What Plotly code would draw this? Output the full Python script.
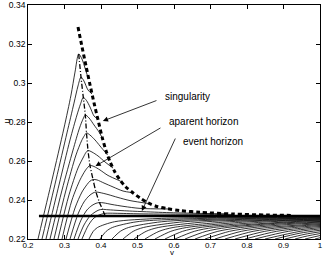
import plotly.graph_objects as go

# ---- data (v, u) ----
# curves that cross the event horizon (peak on the apparent horizon, end on singularity)
peak_v = [
    [0.2274, 0.2658, 0.2986, 0.3178, 0.3288, 0.3389, 0.3479, 0.3562, 0.3630],
    [0.2384, 0.2767, 0.3068, 0.3260, 0.3370, 0.3452, 0.3534, 0.3644, 0.3753],
    [0.2493, 0.2849, 0.3151, 0.3342, 0.3438, 0.3515, 0.3603, 0.3699, 0.3808, 0.3904],
    [0.2603, 0.2932, 0.3233, 0.3411, 0.3507, 0.3570, 0.3671, 0.3808, 0.3945, 0.4027],
    [0.2712, 0.3041, 0.3315, 0.3466, 0.3548, 0.3603, 0.3699, 0.3836, 0.3973, 0.4178],
    [0.2822, 0.3123, 0.3370, 0.3521, 0.3589, 0.3644, 0.3753, 0.3918, 0.4110, 0.4329],
    [0.2932, 0.3205, 0.3425, 0.3562, 0.3644, 0.3699, 0.3808, 0.3973, 0.4192, 0.4534],
    [0.3041, 0.3288, 0.3479, 0.3616, 0.3699, 0.3781, 0.3890, 0.4082, 0.4329, 0.4603, 0.4849],
    [0.3151, 0.3370, 0.3534, 0.3671, 0.3781, 0.3863, 0.3973, 0.4192, 0.4466, 0.4795, 0.5342],
    [0.3260, 0.3452, 0.3616, 0.3753, 0.3863, 0.3959, 0.4082, 0.4301, 0.4630, 0.5068, 0.5890],
    [0.3370, 0.3534, 0.3699, 0.3836, 0.3945, 0.4041, 0.4192, 0.4521, 0.5068, 0.5890, 0.7397],
    [0.3479, 0.3644, 0.3781, 0.3918, 0.4027, 0.4137, 0.4384, 0.5068, 0.6164, 0.7616],
]
peak_u = [
    [0.2200, 0.2503, 0.2769, 0.2938, 0.3056, 0.3149, 0.3123, 0.3077, 0.3036],
    [0.2200, 0.2503, 0.2744, 0.2897, 0.2985, 0.3031, 0.3010, 0.2964, 0.2944],
    [0.2200, 0.2477, 0.2708, 0.2836, 0.2892, 0.2926, 0.2910, 0.2877, 0.2831, 0.2815],
    [0.2200, 0.2451, 0.2656, 0.2769, 0.2815, 0.2836, 0.2821, 0.2785, 0.2749, 0.2721],
    [0.2200, 0.2451, 0.2631, 0.2703, 0.2731, 0.2744, 0.2733, 0.2708, 0.2677, 0.2631],
    [0.2200, 0.2426, 0.2564, 0.2621, 0.2644, 0.2654, 0.2646, 0.2626, 0.2595, 0.2564],
    [0.2200, 0.2400, 0.2503, 0.2549, 0.2569, 0.2577, 0.2572, 0.2554, 0.2526, 0.2497],
    [0.2200, 0.2359, 0.2441, 0.2479, 0.2497, 0.2505, 0.2503, 0.2487, 0.2467, 0.2446, 0.2438],
    [0.2200, 0.2328, 0.2390, 0.2421, 0.2436, 0.2441, 0.2438, 0.2428, 0.2413, 0.2397, 0.2381],
    [0.2200, 0.2297, 0.2349, 0.2372, 0.2383, 0.2387, 0.2385, 0.2377, 0.2367, 0.2357, 0.2354],
    [0.2200, 0.2272, 0.2318, 0.2338, 0.2349, 0.2352, 0.2350, 0.2346, 0.2341, 0.2335, 0.2329],
    [0.2200, 0.2267, 0.2303, 0.2321, 0.2328, 0.2332, 0.2332, 0.2329, 0.2327, 0.2326],
]

# curves that stay below the event horizon
below_v = [
    [0.3671, 0.3788, 0.3904, 0.4370, 0.5534, 0.6712, 1.0],
    [0.3973, 0.4142, 0.4311, 0.4986, 0.6712, 1.0],
    [0.4301, 0.4529, 0.4755, 0.5662, 0.7260, 1.0],
    [0.4603, 0.4882, 0.5162, 0.6279, 0.8082, 1.0],
    [0.4904, 0.5236, 0.5568, 0.6897, 0.8356, 1.0],
    [0.5205, 0.5590, 0.5975, 0.7515, 1.0],
    [0.5479, 0.5912, 0.6345, 0.8077, 1.0],
    [0.5753, 0.6234, 0.6715, 0.8638, 1.0],
    [0.6027, 0.6556, 0.7085, 0.9200, 1.0],
    [0.6301, 0.6878, 0.7455, 0.8904, 1.0],
    [0.6575, 0.7200, 0.7825, 0.8904, 1.0],
    [0.6849, 0.7522, 0.8195, 0.9178, 1.0],
    [0.7123, 0.7844, 0.8564, 1.0],
    [0.7397, 0.8166, 0.8934, 1.0],
    [0.7671, 0.8488, 0.9304, 1.0],
    [0.7945, 0.8809, 0.9674, 1.0],
    [0.8219, 0.9132, 1.0],
    [0.8493, 0.9453, 1.0],
    [0.8767, 0.9452, 1.0],
    [0.9041, 0.9589, 1.0],
    [0.9315, 0.9658, 1.0],
    [0.9589, 1.0],
    [0.9863, 1.0],
]
below_u = [
    [0.2200, 0.22393, 0.22590, 0.22885, 0.23049, 0.23095, 0.23136],
    [0.2200, 0.22393, 0.22590, 0.22885, 0.23050, 0.23117],
    [0.2200, 0.22393, 0.22590, 0.22885, 0.23023, 0.23092],
    [0.2200, 0.22393, 0.22590, 0.22885, 0.23016, 0.23069],
    [0.2200, 0.22393, 0.22590, 0.22885, 0.22989, 0.23044],
    [0.2200, 0.22393, 0.22590, 0.22885, 0.23016],
    [0.2200, 0.22393, 0.22590, 0.22885, 0.22990],
    [0.2200, 0.22393, 0.22590, 0.22885, 0.22962],
    [0.2200, 0.22393, 0.22590, 0.22885, 0.22931],
    [0.2200, 0.22393, 0.22590, 0.22817, 0.22899],
    [0.2200, 0.22393, 0.22590, 0.22768, 0.22864],
    [0.2200, 0.22393, 0.22590, 0.22748, 0.22827],
    [0.2200, 0.22393, 0.22590, 0.22786],
    [0.2200, 0.22393, 0.22590, 0.22742],
    [0.2200, 0.22393, 0.22590, 0.22693],
    [0.2200, 0.22393, 0.22590, 0.22641],
    [0.2200, 0.22393, 0.22583],
    [0.2200, 0.22393, 0.22518],
    [0.2200, 0.22299, 0.22448],
    [0.2200, 0.22243, 0.22368],
    [0.2200, 0.22158, 0.22279],
    [0.2200, 0.22178],
    [0.2200, 0.22064],
]

sing_v = [0.337, 0.348, 0.359, 0.370, 0.381, 0.392, 0.403, 0.414, 0.425, 0.438, 0.452,
          0.468, 0.488, 0.507, 0.529, 0.553, 0.581, 0.616, 0.671, 0.762, 0.855, 0.926]
sing_u = [0.3287, 0.3185, 0.3087, 0.2990, 0.2897, 0.2810, 0.2723, 0.2651, 0.2595, 0.2544,
          0.2503, 0.2467, 0.2436, 0.2410, 0.2385, 0.2367, 0.2356, 0.2346, 0.2337, 0.2328,
          0.2323, 0.2321]

app_v = [0.3389, 0.3452, 0.3515, 0.3570, 0.3603, 0.3644, 0.3699, 0.3781, 0.3863, 0.3959, 0.4041, 0.4110]
app_u = [0.3149, 0.3031, 0.2926, 0.2836, 0.2744, 0.2654, 0.2577, 0.2505, 0.2441, 0.2387, 0.2352, 0.2320]

event_v = [0.230, 1.0]
event_u = [0.2318, 0.2318]

labels = ["singularity", "aparent horizon", "event horizon"]
label_tip_v = [0.405, 0.385, 0.512]
label_tip_u = [0.2805, 0.2574, 0.2344]
label_tail_v = [0.556, 0.567, 0.6055]
label_tail_u = [0.2913, 0.2774, 0.2723]
label_text_v = [0.571, 0.582, 0.620]
label_text_u = [0.2930, 0.2805, 0.2700]

x_ticks = [0.2, 0.3, 0.4, 0.5, 0.6, 0.7, 0.8, 0.9, 1.0]
x_tick_text = ["0.2", "0.3", "0.4", "0.5", "0.6", "0.7", "0.8", "0.9", "1"]
y_ticks = [0.22, 0.24, 0.26, 0.28, 0.30, 0.32, 0.34]
y_tick_text = ["0.22", "0.24", "0.26", "0.28", "0.3", "0.32", "0.34"]

fig = go.Figure()
thin = dict(color="black", width=0.8, shape="spline", smoothing=0.8)
for vv, uu in zip(peak_v, peak_u):
    fig.add_trace(go.Scatter(x=vv, y=uu, mode="lines", line=thin, hoverinfo="skip"))
for vv, uu in zip(below_v, below_u):
    fig.add_trace(go.Scatter(x=vv, y=uu, mode="lines", line=thin, hoverinfo="skip"))

fig.add_trace(go.Scatter(x=event_v, y=event_u, mode="lines",
                         line=dict(color="black", width=2.5)))
fig.add_trace(go.Scatter(x=app_v, y=app_u, mode="lines",
                         line=dict(color="black", width=1.3, dash="5px,2px,1px,2px",
                                   shape="spline", smoothing=0.8)))
fig.add_trace(go.Scatter(x=sing_v, y=sing_u, mode="lines",
                         line=dict(color="black", width=3, dash="4px,3px",
                                   shape="spline", smoothing=0.8)))

for i, t in enumerate(labels):
    fig.add_annotation(x=label_tip_v[i], y=label_tip_u[i], ax=label_tail_v[i], ay=label_tail_u[i],
                       xref="x", yref="y", axref="x", ayref="y", text="",
                       showarrow=True, arrowhead=2, arrowsize=1.3, arrowwidth=0.8,
                       arrowcolor="black", standoff=0, startstandoff=0)
    fig.add_annotation(x=label_text_v[i], y=label_text_u[i], xref="x", yref="y",
                       text=t, showarrow=False, xanchor="left", yanchor="middle",
                       font=dict(family="Liberation Sans, Arial", size=10, color="black"))

# axis titles
fig.add_annotation(x=0.493, y=-0.0876, xref="paper", yref="paper", text="v", showarrow=False,
                   xanchor="center", yanchor="bottom",
                   font=dict(family="Liberation Sans, Arial", size=8, color="black"))
fig.add_annotation(x=-0.07, y=0.504, xref="paper", yref="paper", text="u", showarrow=False,
                   textangle=-90, xanchor="center", yanchor="middle",
                   font=dict(family="Liberation Sans, Arial", size=8.5, color="black"))

fig.update_layout(
    width=327, height=260,
    margin=dict(l=28, r=7, t=5, b=21),
    paper_bgcolor="white", plot_bgcolor="white",
    showlegend=False,
    font=dict(family="Liberation Sans, Arial", size=8.5, color="black"),
    xaxis=dict(range=[0.2, 1.0], tickvals=x_ticks, ticktext=x_tick_text, automargin=False,
               ticks="inside", ticklen=4, tickwidth=0.8, tickcolor="black",
               ticklabeloverflow="allow", ticklabelstandoff=-2,
               tickfont=dict(size=8),
               showline=True, linecolor="black", linewidth=0.8, mirror="ticks",
               showgrid=False, zeroline=False),
    yaxis=dict(range=[0.22, 0.34001], tickvals=y_ticks, ticktext=y_tick_text, automargin=False,
               ticks="inside", ticklen=4, tickwidth=0.8, tickcolor="black",
               ticklabeloverflow="allow",
               showline=True, linecolor="black", linewidth=0.8, mirror="ticks",
               showgrid=False, zeroline=False),
)
fig.write_html("out.html", config={"displayModeBar": False},
               post_script="document.body.style.margin='0px';document.body.style.overflow='hidden';")
